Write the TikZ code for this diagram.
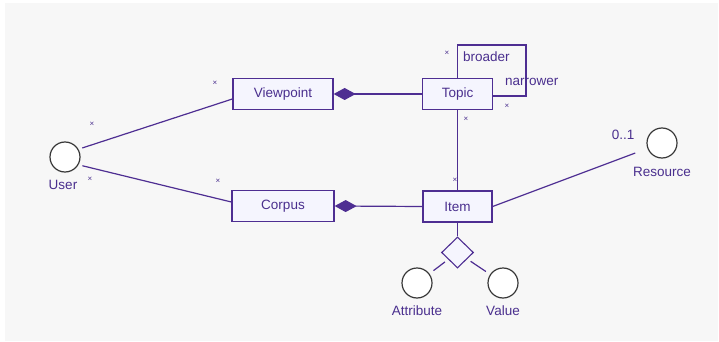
\documentclass[tikz,border=0pt]{standalone}
\usepackage{fontspec}
\setmainfont{Liberation Sans}
\usetikzlibrary{arrows.meta,shapes.geometric,calc}
\definecolor{umlpurple}{HTML}{4E2E92}
\definecolor{umltext}{HTML}{4A2F8E}
\definecolor{boxfill}{HTML}{F5F5FE}
\definecolor{bggray}{HTML}{F7F7F7}
\definecolor{circgray}{HTML}{383838}
\tikzset{
  classbox/.style={draw=umlpurple,line width=1.3pt,fill=boxfill,minimum height=31pt,inner sep=0pt,text=umltext,font=\fontsize{13.5}{15}\selectfont},
  actor/.style={circle,draw=circgray,line width=1.2pt,fill=white,minimum size=30pt,inner sep=0pt},
  assoc/.style={draw=umlpurple,line width=1.2pt},
  lbl/.style={text=umltext,font=\fontsize{13.5}{15}\selectfont,inner sep=0pt},
  mult/.style={text=umltext,font=\fontsize{8}{9}\selectfont,inner sep=0pt},
  compos/.style={-{Diamond[length=22pt,width=12pt,fill=umlpurple]}},
  kite/.style={diamond,draw=umlpurple,line width=1.1pt,fill=boxfill,minimum width=32pt,minimum height=31pt,inner sep=0pt}
}
\begin{document}
\begin{tikzpicture}[x=1pt,y=-1pt]
\useasboundingbox (0,0) rectangle (719,342);
\fill[white] (0,0) rectangle (719,342);
\fill[bggray] (5,3) rectangle (718,341);
% classes
\node[classbox,minimum width=100pt] (Viewpoint) at (283,94) {Viewpoint};
\node[classbox,minimum width=102pt] (Corpus) at (283,206) {Corpus};
\node[classbox,minimum width=70pt] (Topic) at (457.5,94) {Topic};
\node[classbox,minimum width=69pt] (Item) at (457.5,206.5) {Item};
% actors
\node[actor] (User) at (65,157) {};
\node[actor] (Resource) at (662,143) {};
\node[actor] (Attribute) at (417,283) {};
\node[actor] (Value) at (503,283) {};
\node[lbl] (UserL) at (63,185) {User};
\node[lbl] (ResourceL) at (662,172) {Resource};
\node[lbl] (AttributeL) at (417,311) {Attribute};
\node[lbl] (ValueL) at (503,311) {Value};
% association diamond
\node[kite] (Assoc) at (457.5,252.5) {};
% connectors
\draw[assoc,shorten <=4pt] (User.30) -- ([yshift=-5pt]Viewpoint.west);
\draw[assoc,shorten <=4pt] (User.-30) -- ([yshift=4pt]Corpus.west);
\draw[assoc,compos] (Topic.west) -- (Viewpoint.east);
\draw[assoc,compos] (Item.west) -- (Corpus.east);
\draw[assoc] (Topic.south) -- (Item.north);
\draw[assoc,shorten >=13pt] (Item.east) -- (Resource);
\draw[assoc] (Item.south) -- (Assoc.north);
\draw[assoc,shorten <=4pt,shorten >=5pt] (Assoc) -- (Attribute);
\draw[assoc,shorten <=4pt,shorten >=5pt] (Assoc) -- (Value);
\coordinate (loopTR) at (526,45);
\draw[assoc,line width=1.3pt] (Topic.north) |- (loopTR) |- ([yshift=-2pt]Topic.east);
% role names
\node[lbl,anchor=west] (broader) at (463,57) {broader};
\node[lbl,anchor=west] (narrower) at (505,82) {narrower};
\node[lbl] (res01) at (623,135) {0..1};
% multiplicities
\node[mult] (m1) at (447,53) {×};
\node[mult] (m2) at (507,106) {×};
\node[mult] (m3) at (466,119) {×};
\node[mult] (m4) at (455,180) {×};
\node[mult] (m5) at (92,124) {×};
\node[mult] (m6) at (215,83) {×};
\node[mult] (m7) at (90,179) {×};
\node[mult] (m8) at (218,181) {×};
\end{tikzpicture}
\end{document}
